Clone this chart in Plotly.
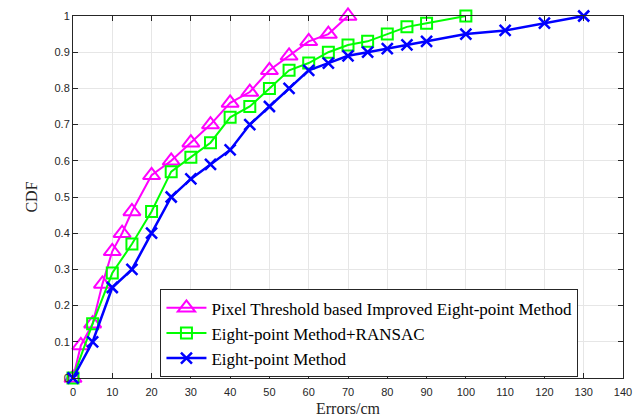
import plotly.graph_objects as go

# Localisation error CDF for three pose-estimation methods
err_pixel = [0, 2, 5, 7.5, 10, 12.5, 15, 20, 25, 30, 35, 40, 45, 50, 55, 60, 65, 70]
cdf_pixel = [0, 0.09, 0.15, 0.26, 0.35, 0.40, 0.46, 0.56, 0.60, 0.65, 0.70, 0.76, 0.79,
             0.85, 0.89, 0.93, 0.95, 1.0]

err_ransac = [0, 5, 10, 15, 20, 25, 30, 35, 40, 45, 50, 55, 60, 65, 70, 75, 80, 85, 90, 100]
cdf_ransac = [0, 0.15, 0.29, 0.37, 0.46, 0.57, 0.61, 0.65, 0.72, 0.75, 0.80, 0.85, 0.87,
              0.90, 0.92, 0.93, 0.95, 0.97, 0.98, 1.0]

err_eight = [0, 5, 10, 15, 20, 25, 30, 35, 40, 45, 50, 55, 60, 65, 70, 75, 80, 85, 90,
             100, 110, 120, 130]
cdf_eight = [0, 0.10, 0.25, 0.30, 0.40, 0.50, 0.55, 0.59, 0.63, 0.70, 0.75, 0.80, 0.85,
             0.87, 0.89, 0.90, 0.91, 0.92, 0.93, 0.95, 0.96, 0.98, 1.0]

x_ticks = list(range(0, 141, 10))
y_ticks = [i / 10 for i in range(11)]
y_labels = ["0"] + [f"{v:.1f}" for v in y_ticks[1:-1]] + ["1"]

SERIF = "Liberation Serif"
SANS = "Liberation Sans"

fig = go.Figure()
fig.add_trace(go.Scatter(
    x=err_pixel, y=cdf_pixel, mode="lines+markers",
    name="Pixel Threshold based Improved Eight-point Method",
    line=dict(color="#ff00ff", width=2),
    marker=dict(symbol="triangle-up-open", size=15, color="#ff00ff",
                line=dict(width=2, color="#ff00ff")),
    cliponaxis=False,
))
fig.add_trace(go.Scatter(
    x=err_ransac, y=cdf_ransac, mode="lines+markers",
    name="Eight-point Method+RANSAC",
    line=dict(color="#00ff00", width=2),
    marker=dict(symbol="square-open", size=11, color="#00ff00",
                line=dict(width=2, color="#00ff00")),
    cliponaxis=False,
))
fig.add_trace(go.Scatter(
    x=err_eight, y=cdf_eight, mode="lines+markers",
    name="Eight-point Method",
    line=dict(color="#0000ff", width=2.5),
    marker=dict(symbol="x-thin-open", size=11, color="#0000ff",
                line=dict(width=2.5, color="#0000ff")),
    cliponaxis=False,
))

axis_common = dict(
    showline=True, linecolor="#262626", linewidth=1, mirror="ticks",
    ticks="inside", ticklen=5, tickcolor="#262626",
    showgrid=True, gridcolor="#e6e6e6", gridwidth=1, zeroline=False,
    tickfont=dict(family=SANS, size=11, color="#262626"),
    automargin=False,
)

fig.update_layout(
    width=634, height=418,
    margin=dict(l=73, r=11, t=16, b=40),
    paper_bgcolor="white", plot_bgcolor="white",
    xaxis=dict(range=[0, 140], tickvals=x_ticks, ticklabelstandoff=4,
               title=dict(text="Errors/cm", standoff=5,
                          font=dict(family=SERIF, size=16, color="#262626")),
               **axis_common),
    yaxis=dict(range=[0, 1], tickvals=y_ticks, ticktext=y_labels,
               title=dict(text="CDF", standoff=12,
                          font=dict(family=SERIF, size=16, color="#262626")),
               **axis_common),
    legend=dict(x=0.159, y=0.245, xanchor="left", yanchor="top",
                bgcolor="white", bordercolor="#262626", borderwidth=1,
                font=dict(family=SERIF, size=17, color="black"),
                tracegroupgap=0, itemwidth=40),
    showlegend=True,
)

fig.write_html("out.html")
